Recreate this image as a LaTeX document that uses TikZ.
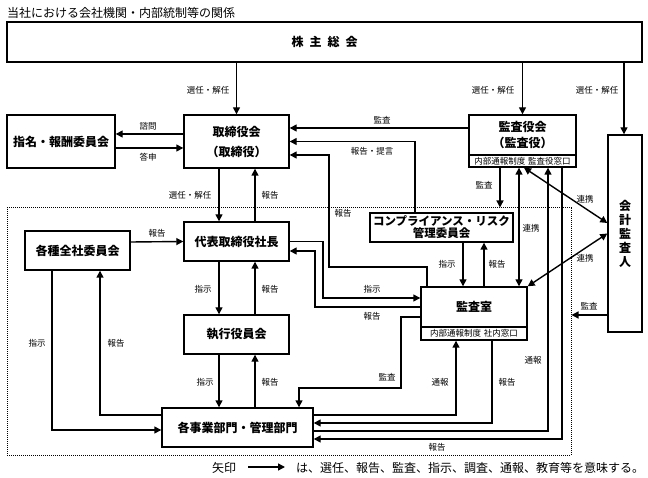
\documentclass[tikz,border=0pt]{standalone}
\usepackage{fontspec}
\setmainfont{Noto Sans CJK JP}
\usetikzlibrary{arrows.meta}

\begin{document}
\begin{tikzpicture}[x=1pt,y=-1pt,
	box/.style={draw,line width=1.4pt,inner sep=0pt,align=center,font=\bfseries\fontsize{12}{14}\selectfont},
	winbox/.style={draw,line width=1.4pt,inner sep=0pt,font=\fontsize{8.5}{9}\selectfont},
	lbl/.style={inner sep=0pt,font=\fontsize{8.5}{9}\selectfont},
	arr/.style={line width=1.4pt,-{Triangle[length=7pt,width=7pt]}},
	dbl/.style={line width=1.4pt,{Triangle[length=7pt,width=7pt]}-{Triangle[length=7pt,width=7pt]}}]
		\useasboundingbox (0,0) rectangle (648,478);
		\node[anchor=west,inner sep=0pt,font=\fontsize{12}{12}\selectfont] at (7,13) (title) {当社における会社機関・内部統制等の関係};
		
		% 内部統制の範囲
		\node[draw,densely dotted,line width=1pt,minimum width=564,minimum height=247] at (289,331.5) (ic) {};
		
		\node[box,minimum width=635,minimum height=40] at (324.5,42) (gm) {株\hspace{6pt}主\hspace{6pt}総\hspace{6pt}会};
		\node[box,minimum width=108,minimum height=53] at (61,141.5) (nom) {指名・報酬委員会};
		\node[box,minimum width=105,minimum height=53] at (236.5,141.5) (board) {取締役会\\[6pt]（取締役）};
		\node[box,minimum width=107,minimum height=40] at (522.5,135) (aud) {監査役会\\[2pt]（監査役）};
		\node[winbox,minimum width=107,minimum height=12] at (522.5,161) (audwin) {内部通報制度\hspace{3pt}監査役窓口};
		\node[box,minimum width=34,minimum height=197] at (625,233.5) (acct) {会\\計\\監\\査\\人};
		\node[box,minimum width=143,minimum height=29,font=\bfseries\fontsize{11.5}{12}\selectfont] at (441.5,227.5) (comp) {コンプライアンス・リスク\\管理委員会};
		\node[box,minimum width=105,minimum height=39] at (77.5,250.5) (iac) {各種全社委員会};
		\node[box,minimum width=105,minimum height=39] at (236.5,241.5) (ceo) {代表取締役社長};
		\node[box,minimum width=105,minimum height=39] at (236.5,334.5) (exec) {執行役員会};
		\node[box,minimum width=151,minimum height=39] at (237.5,427.5) (dept) {各事業部門・管理部門};
		\node[box,minimum width=106,minimum height=40] at (474,307) (ia) {監査室};
		\node[winbox,minimum width=106,minimum height=13] at (474,333.5) (iawin) {内部通報制度\hspace{3pt}社内窓口};
		
		% 株主総会から
		\draw[arr] (gm.south -| board.north) -- (board.north);
		\draw[arr] (gm.south -| aud.north) -- (aud.north);
		\draw[arr] ([xshift=-1pt]gm.south -| acct.north) -- ([xshift=-1pt]acct.north);
		\node[lbl] at (208,90) (l1) {選任・解任};
		\node[lbl] at (493,90) (l2) {選任・解任};
		\node[lbl] at (597,90) (l3) {選任・解任};
		
		% 取締役会まわり
		\draw[arr] ([yshift=7.5pt]board.west) -- ([yshift=7.5pt]nom.east);
		\draw[arr] ([yshift=-6.5pt]nom.east) -- ([yshift=-6.5pt]board.west);
		\node[lbl] at (148,126) (l4) {諮問};
		\node[lbl] at (148,157) (l5) {答申};
		\draw[arr] ([yshift=7pt]aud.west) -- ([yshift=13.5pt]board.east);
		\node[lbl] at (382,120) (l6) {監査};
		\draw[arr] ([xshift=-26.5pt]comp.north) |- (board.east);
		\node[lbl] at (372,151) (l7) {報告・提言};
		\draw[arr] ([xshift=-47pt]ia.north) |- (329,267) |- ([yshift=-13.5pt]board.east);
		\node[lbl] at (343,213) (l8) {報告};
		\draw[arr] ([xshift=-17.5pt]board.south) -- ([xshift=-17.5pt]ceo.north);
		\draw[arr] ([xshift=18.5pt]ceo.north) -- ([xshift=18.5pt]board.south);
		\node[lbl] at (190,195) (l9) {選任・解任};
		\node[lbl] at (270,195) (l10) {報告};
		
		% 執行ライン
		\draw[arr] ([yshift=8.5pt]iac.east) -- (ceo.west);
		\node[lbl] at (157,233) (l11) {報告};
		\draw[arr] ([xshift=-17.5pt]ceo.south) -- ([xshift=-17.5pt]exec.north);
		\draw[arr] ([xshift=18.5pt]exec.north) -- ([xshift=18.5pt]ceo.south);
		\node[lbl] at (203,289) (l12) {指示};
		\node[lbl] at (270,289) (l13) {報告};
		\draw[arr] ([xshift=-17.5pt]exec.south) -- ([xshift=-18.5pt]dept.north);
		\draw[arr] ([xshift=17.5pt]dept.north) -- ([xshift=18.5pt]exec.south);
		\node[lbl] at (205,382) (l14) {指示};
		\node[lbl] at (270,382) (l15) {報告};
		\draw[arr] ([xshift=-25.5pt]iac.south) |- ([yshift=-2.5pt]dept.west);
		\draw[arr] ([yshift=12.5pt]dept.west) -| ([xshift=22.5pt]iac.south);
		\node[lbl] at (37,343) (l16) {指示};
		\node[lbl] at (116,343) (l17) {報告};
		
		% 代表取締役社長と監査室
		\draw[arr] (ceo.east) -| (323,298) -- ([yshift=9pt]ia.west);
		\draw[arr] (ia.west) -| (315,251) -- ([yshift=-9.5pt]ceo.east);
		\node[lbl] at (372,289) (l18) {指示};
		\node[lbl] at (372,316) (l19) {報告};
		
		% コンプライアンス・リスク管理委員会
		\draw[arr] ([xshift=21.5pt]comp.south) -- ([xshift=-11pt]ia.north);
		\draw[arr] ([xshift=10pt]ia.north) -- ([xshift=42.5pt]comp.south);
		\node[lbl] at (447,264) (l20) {指示};
		\node[lbl] at (497,264) (l21) {報告};
		
		% 監査役会から
		\draw[arr] ([xshift=-22.5pt]audwin.south) -- ([xshift=211pt]ic.north);
		\node[lbl] at (484,185) (l22) {監査};
		\draw[dbl] ([xshift=-3.5pt]audwin.south) -- ([xshift=45pt]ia.north);
		\node[lbl] at (531,228) (l23) {連携};
		\draw[dbl] ([xshift=1.5pt]audwin.south) -- ([yshift=10.5pt]acct.west);
		\node[lbl] at (585,199) (l24) {連携};
		\draw[dbl] (ia.north east) -- (acct.west);
		\node[lbl] at (585,258) (l25) {連携};
		\draw[arr] ([yshift=-81.5pt]acct.west) -- ([yshift=16.5pt]ic.east);
		\node[lbl] at (589,306) (l26) {監査};
		
		% 各事業部門・管理部門への線
		\draw[arr] ([yshift=-10pt]ia.west) -| (401,388) -| ([xshift=61.5pt]dept.north);
		\node[lbl] at (387,377) (l27) {監査};
		\draw[arr] ([yshift=12.5pt]dept.east) -| ([xshift=-18pt]iawin.south);
		\node[lbl] at (440,382) (l28) {通報};
		\draw[arr] ([xshift=18pt]iawin.south) |- ([yshift=4.5pt]dept.east);
		\node[lbl] at (507,382) (l29) {報告};
		\draw[arr] ([yshift=-3.5pt]dept.east) -| ([xshift=25.5pt]audwin.south);
		\node[lbl] at (533,360) (l30) {通報};
		\draw[arr] ([xshift=39.5pt]audwin.south) |- ([yshift=-11.5pt]dept.east);
		\node[lbl] at (437,447) (l31) {報告};
		
		% 凡例
		\node[inner sep=0pt,font=\fontsize{12}{12}\selectfont] at (224,468) (lgA) {矢印};
		\coordinate (lgB) at (248,467);
		\coordinate (lgC) at (285,467);
		\draw[arr] (lgB) -- (lgC);
		\node[anchor=west,inner sep=0pt,font=\fontsize{12}{12}\selectfont] at (296,468) (lgD) {は、選任、報告、監査、指示、調査、通報、教育等を意味する。};
	\end{tikzpicture}
\end{document}
